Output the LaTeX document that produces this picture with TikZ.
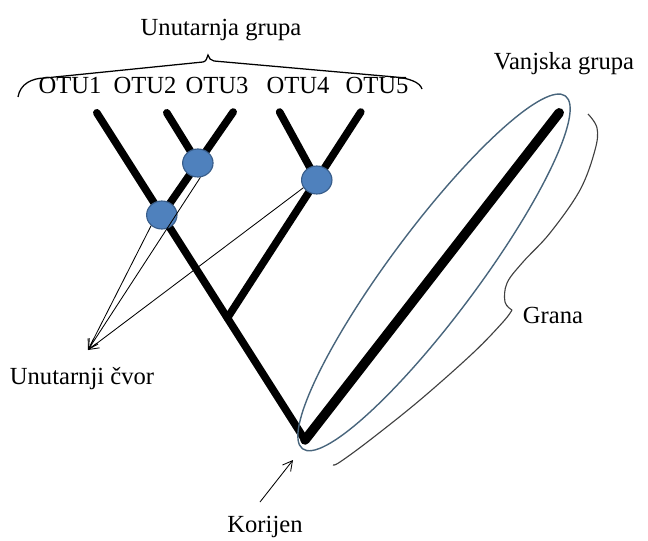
\documentclass[tikz,border=0pt]{standalone}
\usepackage{fontspec}
\setmainfont{Liberation Serif}
\usetikzlibrary{arrows.meta,shapes.geometric}
\usepackage{xcolor}
\definecolor{nodeblue}{RGB}{79,129,189}
\definecolor{nodeedge}{RGB}{56,93,138}
\definecolor{ringcol}{RGB}{72,101,124}

\begin{document}
\begin{tikzpicture}[>={Straight Barb[length=2.4mm,width=2.6mm]},
  branch/.style={line width=5.4pt,line cap=round},
  inner/.style={ellipse,draw=nodeedge,fill=nodeblue,line width=0.8pt,minimum width=0.76cm,minimum height=0.7cm,inner sep=0pt},
  lbl/.style={font=\fontsize{17.5}{20}\selectfont,inner sep=0pt,anchor=base}]
\useasboundingbox (0,0) rectangle (16.2,13.5);
% points of the tree
\coordinate (r) at (7.625,2.5);
\coordinate (j) at (5.684,5.55);
\coordinate (a) at (4.045,8.125);
\coordinate (c) at (4.946,9.425);
\coordinate (b) at (7.919,9.0);
\coordinate (t1) at (2.42,10.68);
\coordinate (t2) at (4.17,10.68);
\coordinate (t3) at (5.83,10.70);
\coordinate (t4) at (6.99,10.70);
\coordinate (t5) at (9.02,10.70);
\coordinate (tout) at (13.98,10.68);
\draw[branch] (r) -- (t1);
\draw[branch] (a) -- (t3);
\draw[branch] (c) -- (t2);
\draw[branch] (j) -- (t5);
\draw[branch] (b) -- (t4);
\draw[branch,line width=6.8pt] (r) -- (tout);
% ring round the outgroup
\draw[ringcol,line width=1pt,rotate around={53.3:(10.85,6.69)}] (10.85,6.69) ellipse (5.5 and 1.1);
\node[inner] (A) at (a) {};
\node[inner] (C) at (c) {};
\node[inner] (B) at (b) {};
% labels
\node[lbl] (ingroup) at (5.525,12.6) {Unutarnja grupa};
\node[lbl] (otu1) at (1.75,11.15) {OTU1};
\node[lbl] (otu2) at (3.625,11.15) {OTU2};
\node[lbl] (otu3) at (5.425,11.15) {OTU3};
\node[lbl] (otu4) at (7.45,11.15) {OTU4};
\node[lbl] (otu5) at (9.425,11.15) {OTU5};
\node[lbl] (outgroup) at (14.1,11.75) {Vanjska grupa};
\node[lbl] (grana) at (13.825,5.425) {Grana};
\node[lbl] (innerlbl) at (2.05,3.9) {Unutarnji čvor};
\node[lbl] (korijen) at (6.625,0.2) {Korijen};
% brace over the ingroup
\draw[line width=0.9pt] (0.45,11.075) .. controls (0.5,11.4) and (0.8,11.55) .. (1.125,11.55) -- (5.075,11.95)
  .. controls (5.15,11.96) and (5.18,12.05) .. (5.2,12.125) .. controls (5.22,12.05) and (5.27,11.98) .. (5.35,11.975)
  -- (9.875,11.575) .. controls (10.2,11.55) and (10.5,11.45) .. (10.55,11.275);
% brace along the branch
\draw[line width=0.8pt,black!75] plot[smooth,tension=0.6] coordinates {(14.70,10.65) (14.925,10.30) (14.875,9.75) (14.50,8.75) (13.75,7.675) (13.075,6.95) (12.675,6.425) (12.625,5.95) (12.80,5.75)};
\draw[line width=0.8pt,black!75] plot[smooth,tension=0.6] coordinates {(12.80,5.75) (12.575,5.45) (11.825,4.675) (10.50,3.50) (9.25,2.50) (8.50,1.95) (8.325,1.875)};
% pointers
\coordinate (uc) at (2.2,4.75);
\draw[->,line width=0.6pt] (A.225) -- (uc);
\draw[->,line width=0.6pt] (C.-80) -- (uc);
\draw[->,line width=0.6pt] (B.210) -- (uc);
\coordinate (ktail) at (6.5,0.95);
\coordinate (ktip) at (7.325,2.0);
\draw[->,line width=0.6pt] (ktail) -- (ktip);
\end{tikzpicture}
\end{document}
